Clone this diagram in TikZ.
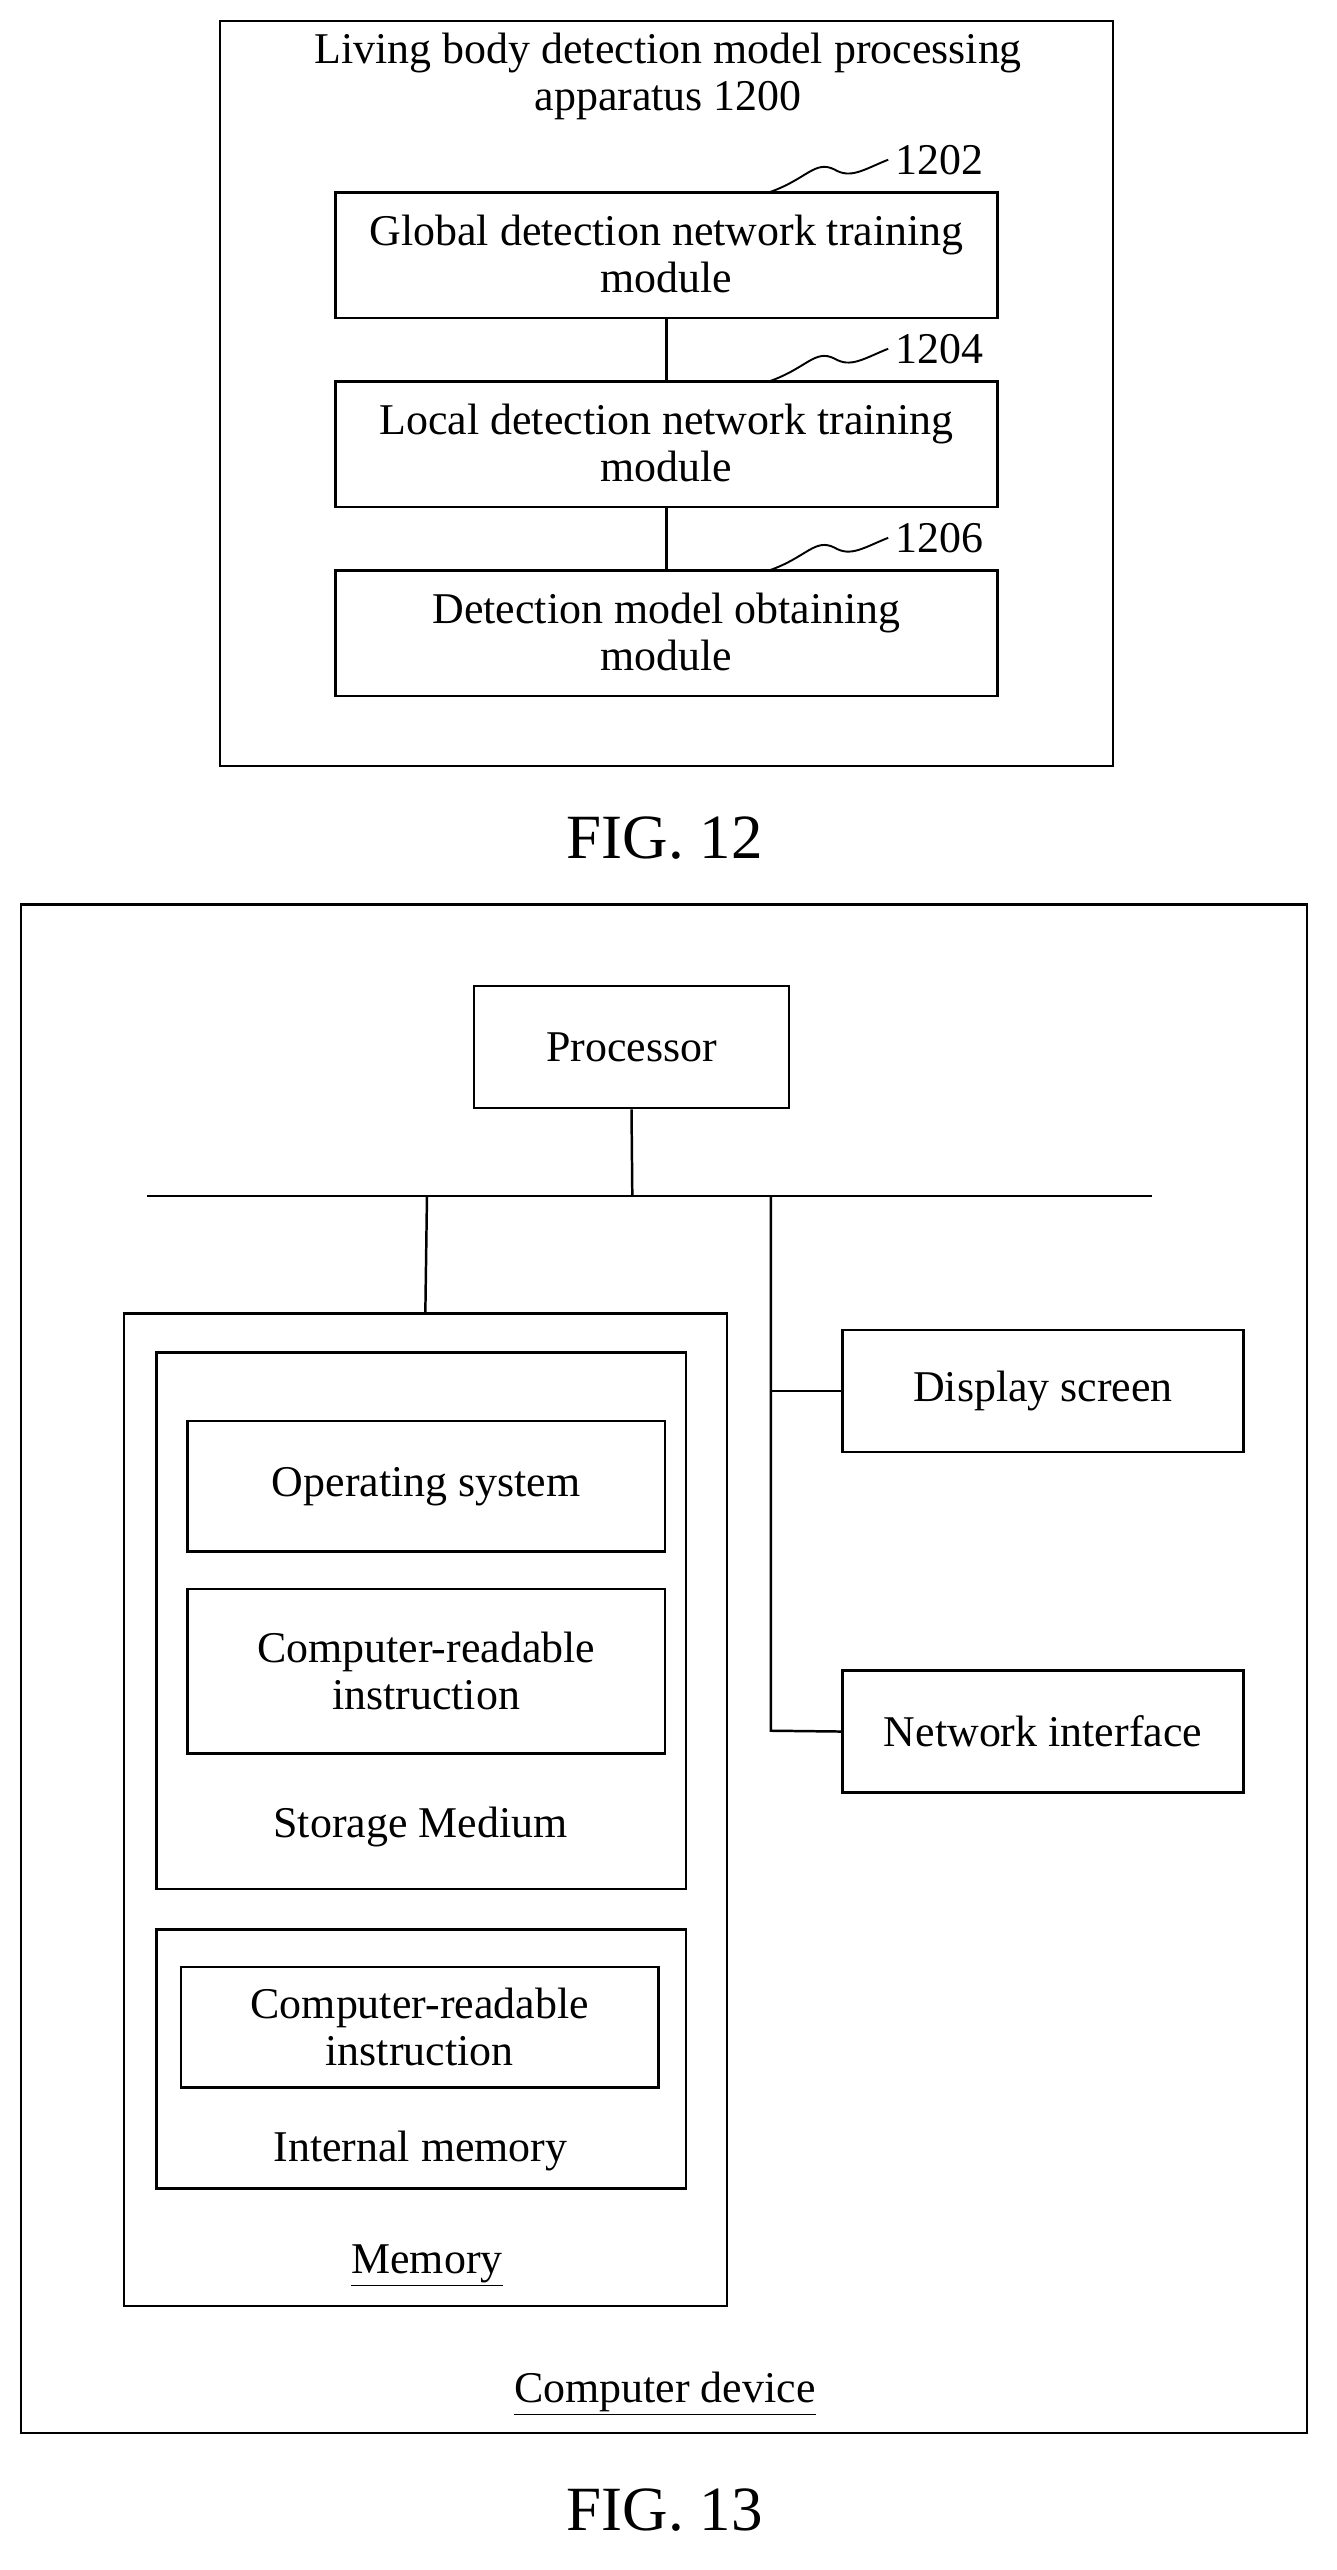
\documentclass[tikz,border=0pt]{standalone}
\usepackage{fontspec}
\setmainfont{Liberation Serif}
\begin{document}
\begin{tikzpicture}[x=0.03cm,y=-0.03cm,line width=1.3pt,
  bx/.style={draw,align=center,inner sep=0pt},
  txt/.style={font=\fontsize{23}{24.5}\selectfont,align=center},
  fig/.style={font=\fontsize{33}{36}\selectfont}]
\useasboundingbox (0,0) rectangle (820,1577);
% FIG 12
\draw (135,13) rectangle (683,470);
\node[txt] (t12) at (410,47) {Living body detection model processing\\apparatus 1200};
\foreach \n/\y/\t/\l in {a/118/{Global detection network training\\module}/1202,
  b/234/{Local detection network training\\module}/1204,
  c/350/{Detection model obtaining\\module}/1206}{
  \draw (206,\y) rectangle (612,\y+77);
  \node[txt] (\n) at (409,\y+38) {\t};
  \node[txt,anchor=west] (\n l) at (545,\y-20) {\l};
  \draw[line width=1pt] (472,\y) .. controls (495,\y-8) and (500,\y-20) .. (512,\y-14) .. controls (522,\y-8) and (530,\y-14) .. (\n l.west);
}
\draw (409,195) -- (409,234);
\draw (409,311) -- (409,350);
\node[fig] (f12) at (408,514) {FIG. 12};
% FIG 13
\draw (13,555) rectangle (802,1493);
\node[bx,minimum width=193*0.03cm,minimum height=75*0.03cm,txt] (proc) at (387.5,642.5) {Processor};
\coordinate (busL) at (90,734); \coordinate (busR) at (707,734);
\draw (busL) -- (busR);
\draw (proc.south) -- (388,734);
\node[bx,minimum width=370*0.03cm,minimum height=609*0.03cm] (mem) at (261,1110.5) {};
\draw (262,734) -- (mem.north);
\draw (96,830) rectangle (421,1159);
\node[bx,txt,minimum width=293*0.03cm,minimum height=80*0.03cm] (os) at (261.5,912) {Operating system};
\node[bx,txt,minimum width=293*0.03cm,minimum height=101*0.03cm] (cri) at (261.5,1025.5) {Computer-readable\\instruction};
\node[txt] (sm) at (258,1121) {Storage Medium};
\draw (96,1184) rectangle (421,1343);
\node[bx,txt,minimum width=293*0.03cm,minimum height=74*0.03cm] (cri2) at (257.5,1244) {Computer-readable\\instruction};
\node[txt] (im) at (258,1320) {Internal memory};
\node[txt] (ml) at (262,1390) {\underline{Memory}};
\node[bx,txt,minimum width=246*0.03cm,minimum height=75*0.03cm] (disp) at (640,853.5) {Display screen};
\node[bx,txt,minimum width=246*0.03cm,minimum height=75*0.03cm] (net) at (640,1062.5) {Network interface};
\draw (473,734) -- (473,1062) -- (net.west);
\draw (473,853.5) -- (disp.west);
\node[txt] (cd) at (408,1469) {\underline{Computer device}};
\node[fig] (f13) at (408,1540) {FIG. 13};
\end{tikzpicture}
\end{document}
